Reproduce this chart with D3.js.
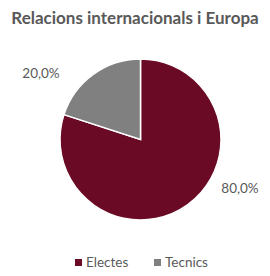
<!DOCTYPE html>
<html><head><meta charset="utf-8">
<script src="https://cdn.jsdelivr.net/npm/d3@7"></script>
<style>body{margin:0;background:#fff}svg{display:block}</style>
</head><body>
<script>
const categories = ["Electes", "Tecnics"];
const values = [80.0, 20.0];
const colors = ["#6a0a24", "#808080"];
const title = "Relacions internacionals i Europa";

const W = 270, H = 276;
const svg = d3.select("body").append("svg").attr("width", W).attr("height", H);
const font = "Lato, 'Open Sans', sans-serif";

svg.append("text").attr("x", 135).attr("y", 24).attr("text-anchor", "middle")
  .attr("font-family", font).attr("font-weight", "bold").attr("font-size", 17)
  .attr("fill", "#595959").text(title);

const cx = 140.5, cy = 139.5, r = 80.5;
const pie = d3.pie().sort(null).value(d => d)(values);
const arc = d3.arc().innerRadius(0).outerRadius(r);
const g = svg.append("g").attr("transform", `translate(${cx},${cy})`);
g.selectAll("path").data(pie).join("path")
  .attr("d", arc).attr("fill", (d, i) => colors[i])
  .attr("stroke", "#fff").attr("stroke-width", 1.5);

const fmt = v => v.toFixed(1).replace(".", ",") + "%";
const labelPos = [[240, 193], [41, 78]];
pie.forEach((d, i) => {
  svg.append("text").attr("x", labelPos[i][0]).attr("y", labelPos[i][1])
    .attr("text-anchor", "middle").attr("font-family", font).attr("font-size", 13.5)
    .attr("fill", "#595959").text(fmt(values[i]));
});

const legend = svg.append("g");
const legX = [75, 154];
categories.forEach((c, i) => {
  legend.append("rect").attr("x", legX[i]).attr("y", 259).attr("width", 7).attr("height", 7).attr("fill", colors[i]);
  legend.append("text").attr("x", legX[i] + 11).attr("y", 267).attr("font-family", font)
    .attr("font-size", 13.5).attr("fill", "#595959").text(c);
});
</script>
</body></html>
